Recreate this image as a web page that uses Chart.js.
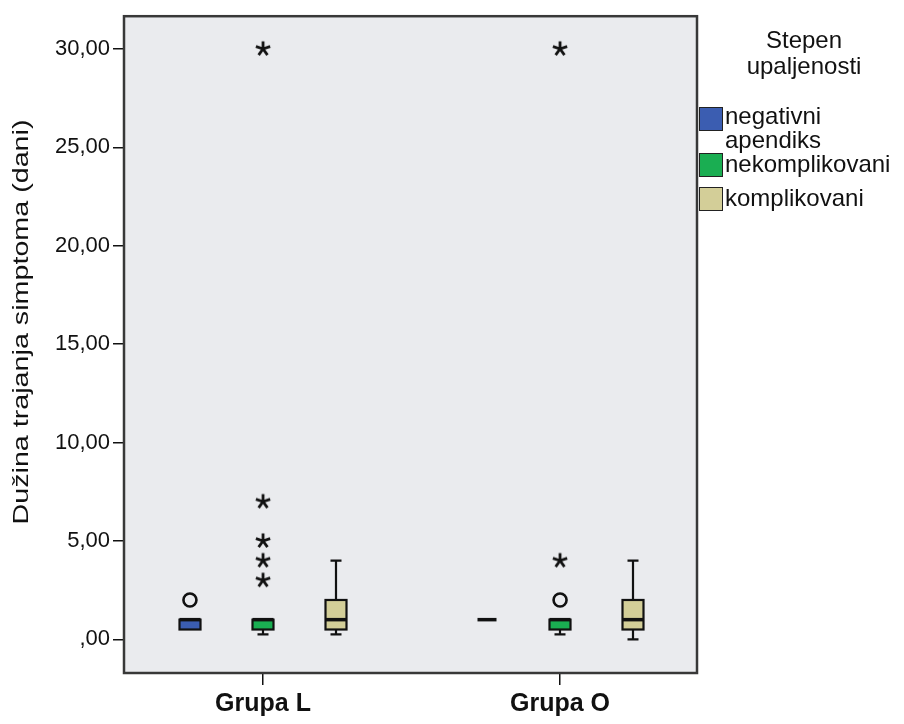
<!DOCTYPE html>
<html>
<head>
<meta charset="utf-8">
<title>Dužina trajanja simptoma</title>
<script src="https://cdn.jsdelivr.net/npm/chart.js@4.4.1/dist/chart.umd.min.js"></script>
<style>
    html, body { margin: 0; padding: 0; background: #fff; }
    #wrap { position: relative; width: 904px; height: 724px; }
    #legend { font-family: "Liberation Sans", Arial, sans-serif; font-size: 24px; color: #111; }
    #legend .title { position: absolute; left: 699px; width: 210px; top: 27px; line-height: 26px; text-align: center; }
    #legend .sw { position: absolute; left: 699px; width: 22px; height: 22px; border: 1px solid #222; }
    #legend .lbl { position: absolute; left: 725px; line-height: 24px; white-space: nowrap; }
</style>
</head>
<body>
<div id="wrap">
    <canvas id="boxChart" width="904" height="724"></canvas>
    <div id="legend"></div>
</div>
<script>
const groups = ['Grupa L', 'Grupa O'];
const categories = ['negativni apendiks', 'nekomplikovani', 'komplikovani'];
const legendTitle = ['Stepen', 'upaljenosti'];
const yTitle = 'Dužina trajanja simptoma (dani)';
const yTicks = [0, 5, 10, 15, 20, 25, 30];

// five-number summaries per group: [min, Q1, median, Q3, max]
const negativniBox = [[0.5, 0.5, 1, 1, 1], [1, 1, 1, 1, 1]];
const nekomplikovaniBox = [[0.25, 0.5, 1, 1, 1], [0.25, 0.5, 1, 1, 1]];
const komplikovaniBox = [[0.25, 0.5, 1, 2, 4], [0, 0.5, 1, 2, 4]];

// outliers (o) and extreme values (*) per group
const negativniOutliers = [[2], []];
const nekomplikovaniOutliers = [[], [2]];
const komplikovaniOutliers = [[], []];
const negativniExtremes = [[], []];
const nekomplikovaniExtremes = [[3, 4, 5, 7, 30], [4, 30]];
const komplikovaniExtremes = [[], []];

const colors = ['#3b5db1', '#1aae52', '#d3ce98'];
const boxSets = [negativniBox, nekomplikovaniBox, komplikovaniBox];
const outlierSets = [negativniOutliers, nekomplikovaniOutliers, komplikovaniOutliers];
const extremeSets = [negativniExtremes, nekomplikovaniExtremes, komplikovaniExtremes];

const boxOffset = 0.246;   // distance between boxes inside a group (x units)
const boxWidth = 21;       // px
const capWidth = 11;       // px
const fontFamily = '"Liberation Sans", Arial, sans-serif';

function xPos(g, s) {
    return g + 1 + (s - 1) * boxOffset;
}

// asterisk marker for extreme values
function makeStar() {
    const c = document.createElement('canvas');
    c.width = 18; c.height = 18;
    const g = c.getContext('2d');
    g.strokeStyle = '#111';
    g.lineWidth = 2.8;
    g.beginPath();
    for (let i = 0; i < 5; i++) {
        const a = -Math.PI / 2 + i * 2 * Math.PI / 5;
        g.moveTo(9, 9);
        g.lineTo(9 + 7.5 * Math.cos(a), 9 + 7.5 * Math.sin(a));
    }
    g.stroke();
    return c;
}
const starImg = makeStar();

const datasets = [];
categories.forEach((cat, s) => {
    datasets.push({
        label: cat + ' outliers',
        data: outlierSets[s].flatMap((vals, g) => vals.map(v => ({ x: xPos(g, s), y: v }))),
        pointStyle: 'circle',
        pointRadius: 6.5,
        borderWidth: 2.6,
        borderColor: '#111',
        backgroundColor: 'rgba(0,0,0,0)'
    });
    datasets.push({
        label: cat + ' extremes',
        data: extremeSets[s].flatMap((vals, g) => vals.map(v => ({ x: xPos(g, s), y: v }))),
        pointStyle: starImg
    });
});

// plot background, frame and the (stretched) y axis title
const framePlugin = {
    id: 'frame',
    beforeDraw(chart) {
        const { ctx, chartArea: a } = chart;
        ctx.save();
        ctx.fillStyle = '#eaebee';
        ctx.fillRect(a.left, a.top, a.right - a.left, a.bottom - a.top);
        ctx.restore();
    },
    afterDraw(chart) {
        const { ctx, chartArea: a } = chart;
        ctx.save();
        ctx.strokeStyle = '#383838';
        ctx.lineWidth = 2.5;
        ctx.strokeRect(a.left, a.top, a.right - a.left, a.bottom - a.top);

        ctx.translate(22, 322);
        ctx.rotate(-Math.PI / 2);
        ctx.font = '22px ' + fontFamily;
        const w = ctx.measureText(yTitle).width;
        ctx.scale(405 / w, 1);
        ctx.fillStyle = '#111';
        ctx.textAlign = 'center';
        ctx.textBaseline = 'middle';
        ctx.fillText(yTitle, 0, 0);
        ctx.restore();
    }
};

// box + whiskers, drawn through the chart scales
const boxPlugin = {
    id: 'boxes',
    beforeDatasetsDraw(chart) {
        const { ctx, scales: { x, y } } = chart;
        ctx.save();
        ctx.strokeStyle = '#111';
        boxSets.forEach((set, s) => {
            set.forEach((b, g) => {
                const cx = Math.round(x.getPixelForValue(xPos(g, s)));
                const [mn, q1, md, q3, mx] = b.map(v => y.getPixelForValue(v));
                const half = boxWidth / 2;
                // whiskers
                ctx.lineWidth = 2.2;
                ctx.beginPath();
                if (mx < q3) {
                    ctx.moveTo(cx, q3); ctx.lineTo(cx, mx);
                    ctx.moveTo(cx - capWidth / 2, mx); ctx.lineTo(cx + capWidth / 2, mx);
                }
                if (mn > q1) {
                    ctx.moveTo(cx, q1); ctx.lineTo(cx, mn);
                    ctx.moveTo(cx - capWidth / 2, mn); ctx.lineTo(cx + capWidth / 2, mn);
                }
                ctx.stroke();
                if (q1 - q3 < 1) {
                    // all values equal: just a line
                    ctx.lineWidth = 3.5;
                    ctx.beginPath();
                    ctx.moveTo(cx - half + 1, md); ctx.lineTo(cx + half - 1, md);
                    ctx.stroke();
                    return;
                }
                ctx.fillStyle = colors[s];
                ctx.fillRect(cx - half, q3, boxWidth, q1 - q3);
                ctx.lineWidth = 2.2;
                ctx.strokeRect(cx - half, q3, boxWidth, q1 - q3);
                ctx.lineWidth = 3.5;
                ctx.beginPath();
                ctx.moveTo(cx - half, md); ctx.lineTo(cx + half, md);
                ctx.stroke();
            });
        });
        ctx.restore();
    }
};

new Chart(document.getElementById('boxChart'), {
    type: 'scatter',
    data: { datasets },
    options: {
        responsive: false,
        animation: false,
        devicePixelRatio: 1,
        layout: { padding: { top: 12, right: 207, bottom: 0, left: 0 } },
        plugins: { legend: { display: false }, tooltip: { enabled: false } },
        scales: {
            x: {
                type: 'linear',
                min: 0.532,
                max: 2.461,
                afterFit: (s) => { s.height = 51; },
                afterBuildTicks: (s) => { s.ticks = groups.map((_, i) => ({ value: i + 1 })); },
                ticks: {
                    callback: (v) => groups[v - 1],
                    color: '#111',
                    padding: 4,
                    font: { family: fontFamily, size: 25, weight: 'bold' }
                },
                grid: { drawOnChartArea: false, drawTicks: true, tickLength: 12, color: '#111', lineWidth: 1.5 },
                border: { display: false }
            },
            y: {
                min: -1.71,
                max: 31.66,
                afterFit: (s) => { s.width = 124; },
                afterBuildTicks: (s) => { s.ticks = yTicks.map(v => ({ value: v })); },
                ticks: {
                    callback: (v) => v === 0 ? ',00' : v.toFixed(2).replace('.', ','),
                    color: '#111',
                    padding: 3,
                    font: { family: fontFamily, size: 22 }
                },
                grid: { drawOnChartArea: false, drawTicks: true, tickLength: 11, color: '#111', lineWidth: 1.5 },
                border: { display: false }
            }
        }
    },
    plugins: [framePlugin, boxPlugin]
});

// legend (title, swatches, labels)
const legend = document.getElementById('legend');
const swatchTops = [107, 153, 187];
const labelTops = [104, 152, 186];
legend.innerHTML = '<div class="title">' + legendTitle.join('<br>') + '</div>' +
    categories.map((cat, i) => {
        const text = i === 0 ? cat.replace(' ', '<br>') : cat;
        return '<div class="sw" style="top:' + swatchTops[i] + 'px;background:' + colors[i] + '"></div>' +
            '<div class="lbl" style="top:' + labelTops[i] + 'px">' + text + '</div>';
    }).join('');
</script>
</body>
</html>
